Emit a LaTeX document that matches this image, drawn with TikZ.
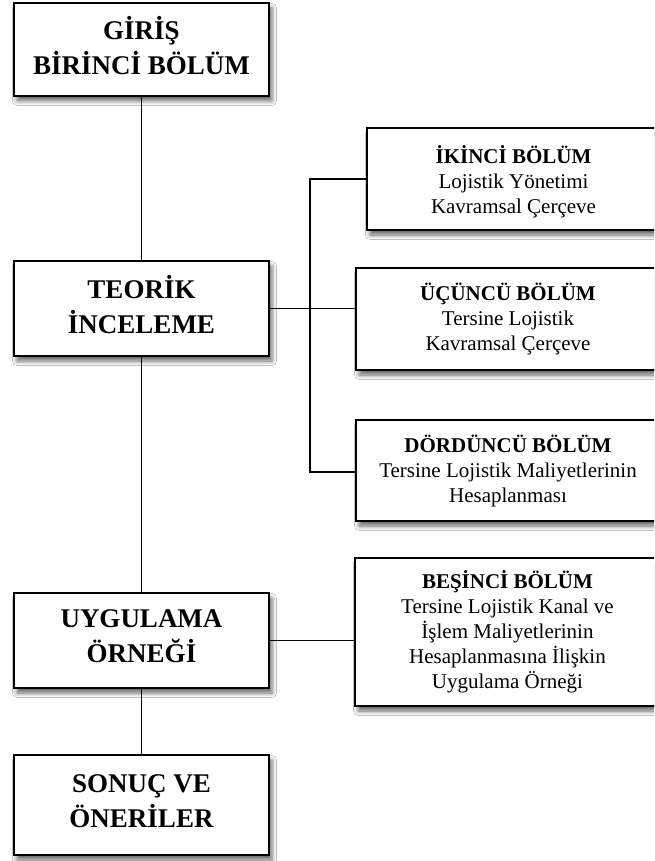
\documentclass[tikz,border=0pt]{standalone}
\usepackage{fontspec}
\setmainfont{Liberation Serif}
\usetikzlibrary{shadows.blur}

% extra depth under the last line lifts a box's text a little
\newcommand{\liftpad}{\rule[-8pt]{0pt}{8pt}}

\tikzset{
  box/.style={draw=black, fill=white, line width=2.4pt, inner sep=0pt,
    align=center,
    blur shadow={shadow xshift=3pt, shadow yshift=-5pt,
                 shadow blur radius=4.5pt, shadow opacity=60}},
  mainbox/.style={box, minimum width=255pt,
    font=\fontsize{27}{35}\selectfont\bfseries},
  chapbox/.style={box, font=\fontsize{21}{25}\selectfont},
  link/.style={draw=black, line width=1.9pt}
}

\begin{document}
\begin{tikzpicture}[x=1pt, y=-1pt]
  \clip (0,0) rectangle (654,861);
  \fill[white] (0,0) rectangle (654,861);

  % main column
  \node[mainbox, minimum height=93pt]  (giris)    at (141.5,49.5)  {GİRİŞ\\BİRİNCİ BÖLÜM\liftpad};
  \node[mainbox, minimum height=95pt]  (teorik)   at (141.5,308.5) {TEORİK\\İNCELEME\liftpad};
  \node[mainbox, minimum height=95pt]  (uygulama) at (141.5,640.5) {UYGULAMA\\ÖRNEĞİ\liftpad};
  \node[mainbox, minimum height=100pt] (sonuc)    at (141.5,805)   {SONUÇ VE\\ÖNERİLER\liftpad};

  % chapter boxes on the right
  \node[chapbox, minimum width=293pt, minimum height=102pt] (ikinci) at (513.5,179)
    {\textbf{İKİNCİ BÖLÜM}\rule{0pt}{24pt}\\Lojistik Yönetimi\\Kavramsal Çerçeve};
  \node[chapbox, minimum width=304pt, minimum height=102pt] (ucuncu) at (508,319)
    {\textbf{ÜÇÜNCÜ BÖLÜM}\\Tersine Lojistik\\Kavramsal Çerçeve};
  \node[chapbox, minimum width=304pt, minimum height=101pt] (dorduncu) at (508,470.5)
    {\textbf{DÖRDÜNCÜ BÖLÜM}\\Tersine Lojistik Maliyetlerinin\\Hesaplanması};
  \node[chapbox, minimum width=305pt, minimum height=148pt] (besinci) at (507.5,632)
    {\textbf{BEŞİNCİ BÖLÜM}\\Tersine Lojistik Kanal ve\\İşlem Maliyetlerinin\\Hesaplanmasına İlişkin\\Uygulama Örneği};

  % trunk
  \draw[link] (giris.south) -- (teorik.north);
  \draw[link] (teorik.south) -- (uygulama.north);
  \draw[link] (uygulama.south) -- (sonuc.north);

  % theory branch
  \coordinate (bustop) at (310,179);
  \coordinate (busbot) at (310,472);
  \draw[link] (ikinci.west) -- (bustop) -- (busbot) -- (busbot -| dorduncu.west);
  \draw[link] (teorik.east) -- (teorik.east -| ucuncu.west);

  % application branch
  \draw[link] (uygulama.east) -- (uygulama.east -| besinci.west);
\end{tikzpicture}
\end{document}
